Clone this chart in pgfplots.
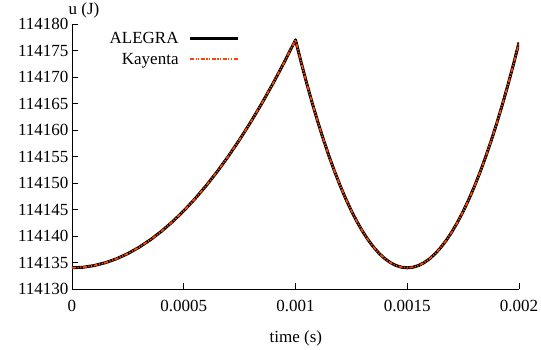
\documentclass[border=0pt]{standalone}
\usepackage{fontspec}
\setmainfont{Liberation Serif}
\usepackage{pgfplots}
\pgfplotsset{compat=1.18}
\usepackage{pgfplotstable}
\definecolor{kay}{RGB}{255,70,0}
\pgfplotstableread{
t u
0 114134
0.00005 114134.1075
0.0001 114134.43
0.00015 114134.9675
0.0002 114135.72
0.00025 114136.6875
0.0003 114137.87
0.00035 114139.2675
0.0004 114140.88
0.00045 114142.7075
0.0005 114144.75
0.00055 114147.0075
0.0006 114149.48
0.00065 114152.1675
0.0007 114155.07
0.00075 114158.1875
0.0008 114161.52
0.00085 114165.0675
0.0009 114168.83
0.00095 114172.8075
0.001 114177
0.001025 114172.8075
0.00105 114168.83
0.001075 114165.0675
0.0011 114161.52
0.001125 114158.1875
0.00115 114155.07
0.001175 114152.1675
0.0012 114149.48
0.001225 114147.0075
0.00125 114144.75
0.001275 114142.7075
0.0013 114140.88
0.001325 114139.2675
0.00135 114137.87
0.001375 114136.6875
0.0014 114135.72
0.001425 114134.9675
0.00145 114134.43
0.001475 114134.1075
0.0015 114134
0.001525 114134.10625
0.00155 114134.425
0.001575 114134.95625
0.0016 114135.7
0.001625 114136.65625
0.00165 114137.825
0.001675 114139.20625
0.0017 114140.8
0.001725 114142.60625
0.00175 114144.625
0.001775 114146.85625
0.0018 114149.3
0.001825 114151.95625
0.00185 114154.825
0.001875 114157.90625
0.0019 114161.2
0.001925 114164.70625
0.00195 114168.425
0.001975 114172.35625
0.002 114176.5
}\alegra
\pgfplotstableread{
t u
0 114134
0.00005 114134.1075
0.0001 114134.43
0.00015 114134.9675
0.0002 114135.72
0.00025 114136.6875
0.0003 114137.87
0.00035 114139.2675
0.0004 114140.88
0.00045 114142.7075
0.0005 114144.75
0.00055 114147.0075
0.0006 114149.48
0.00065 114152.1675
0.0007 114155.07
0.00075 114158.1875
0.0008 114161.52
0.00085 114165.0675
0.0009 114168.83
0.00095 114172.8075
0.001 114177
0.001025 114172.8075
0.00105 114168.83
0.001075 114165.0675
0.0011 114161.52
0.001125 114158.1875
0.00115 114155.07
0.001175 114152.1675
0.0012 114149.48
0.001225 114147.0075
0.00125 114144.75
0.001275 114142.7075
0.0013 114140.88
0.001325 114139.2675
0.00135 114137.87
0.001375 114136.6875
0.0014 114135.72
0.001425 114134.9675
0.00145 114134.43
0.001475 114134.1075
0.0015 114134
0.001525 114134.10625
0.00155 114134.425
0.001575 114134.95625
0.0016 114135.7
0.001625 114136.65625
0.00165 114137.825
0.001675 114139.20625
0.0017 114140.8
0.001725 114142.60625
0.00175 114144.625
0.001775 114146.85625
0.0018 114149.3
0.001825 114151.95625
0.00185 114154.825
0.001875 114157.90625
0.0019 114161.2
0.001925 114164.70625
0.00195 114168.425
0.001975 114172.35625
0.002 114176.5
}\kayenta
\begin{document}
\begin{tikzpicture}
\useasboundingbox (-72pt,-60pt) rectangle (469pt,289pt);
\begin{axis}[
  at={(0,0)}, anchor=south west,
  scale only axis, width=447pt, height=265pt,
  xmin=0, xmax=0.002, ymin=114130, ymax=114180,
  axis lines*=left,
  axis line style={line width=0.9pt, black},
  every tick/.style={line width=0.9pt, black},
  tick align=inside,
  major tick length=6pt,
  scaled ticks=false,
  xtick={0,0.0005,0.001,0.0015,0.002},
  xticklabels={0,0.0005,0.001,0.0015,0.002},
  ytick={114130,114135,114140,114145,114150,114155,114160,114165,114170,114175,114180},
  yticklabels={114130,114135,114140,114145,114150,114155,114160,114165,114170,114175,114180},
  tick label style={font=\fontsize{17}{20}\selectfont},
  xticklabel style={yshift=-8pt},
  xlabel={time (s)},
  xlabel style={font=\fontsize{17}{20}\selectfont, at={(axis description cs:0.501,-0.187)}, anchor=center},
  ylabel={u (J)},
  ylabel style={font=\fontsize{17}{20}\selectfont, rotate=-90, at={(axis description cs:0.027,1.05)}, anchor=center},
  legend plot pos=right,
  legend cell align=right,
  legend style={draw=none, fill=none, font=\fontsize{17}{20}\selectfont,
    at={(axis description cs:0.382,0.985)}, anchor=north east, row sep=4pt,
    /tikz/column 1/.style={column sep=8pt}},
  legend image code/.code={\draw[#1] (0pt,0pt) -- (48pt,0pt);},
]
\addplot[black, line width=3pt, line join=round] table[x=t, y=u] {\alegra};
\addlegendentry{ALEGRA}
\addplot[draw=kay, line width=1.7pt, dash pattern=on 4pt off 1.5pt on 1.2pt off 1.5pt on 1.2pt off 1.5pt] table[x=t, y=u] {\kayenta};
\addlegendentry{Kayenta}
\end{axis}
\end{tikzpicture}
\end{document}
